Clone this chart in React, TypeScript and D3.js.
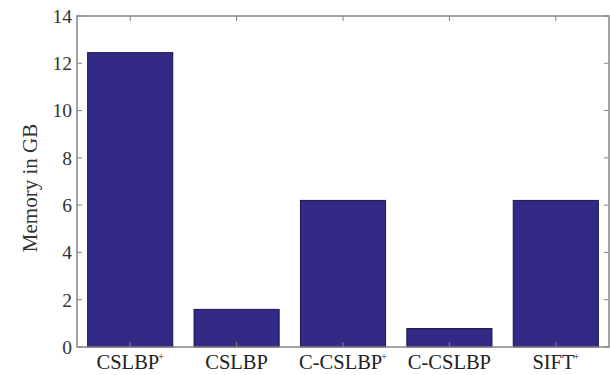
import { useEffect, useRef } from "react";
import * as d3 from "d3";

const categories = ["CSLBP", "CSLBP", "C-CSLBP", "C-CSLBP", "SIFT"];
const superscripts = ["+", "", "+", "", "+"];
const memory = [12.45, 1.59, 6.2, 0.78, 6.2];
const yTicks = [0, 2, 4, 6, 8, 10, 12, 14];

export default function App() {
  const ref = useRef<SVGSVGElement>(null);

  useEffect(() => {
    if (!ref.current) return;
    const svg = d3.select(ref.current);
    svg.selectAll("*").remove();

    const left = 77, right = 609, top = 16, bottom = 347;
    const font = "'Liberation Serif', 'Times New Roman', serif";

    const x = d3.scaleLinear().domain([0.5, 5.5]).range([left, right]);
    const y = d3.scaleLinear().domain([0, 14]).range([bottom, top]);
    const barW = x(1.8) - x(1);

    svg
      .append("rect")
      .attr("width", 610)
      .attr("height", 375)
      .attr("fill", "white");

    svg
      .append("g")
      .selectAll("rect")
      .data(memory)
      .join("rect")
      .attr("x", (_, i) => x(i + 1) - barW / 2)
      .attr("y", (d) => y(d))
      .attr("width", barW)
      .attr("height", (d) => y(0) - y(d))
      .attr("fill", "#332a85")
      .attr("stroke", "#1a1650")
      .attr("stroke-width", 1);

    const axisColor = "#858585";

    // box
    svg
      .append("rect")
      .attr("x", left)
      .attr("y", top)
      .attr("width", right - left)
      .attr("height", bottom - top)
      .attr("fill", "none")
      .attr("stroke", axisColor)
      .attr("stroke-width", 1.5);

    // y ticks (inside, both sides)
    const yt = svg.append("g");
    yTicks.forEach((t) => {
      yt.append("line")
        .attr("x1", left).attr("x2", left + 5)
        .attr("y1", y(t)).attr("y2", y(t))
        .attr("stroke", axisColor);
      yt.append("line")
        .attr("x1", right).attr("x2", right - 5)
        .attr("y1", y(t)).attr("y2", y(t))
        .attr("stroke", axisColor);
      yt.append("text")
        .attr("x", left - 5)
        .attr("y", y(t))
        .attr("dy", "0.35em")
        .attr("text-anchor", "end")
        .attr("font-family", font)
        .attr("font-size", 19.5)
        .attr("fill", "#333")
        .text(t);
    });

    // x ticks
    const xt = svg.append("g");
    categories.forEach((c, i) => {
      const cx = x(i + 1);
      xt.append("line")
        .attr("x1", cx).attr("x2", cx)
        .attr("y1", bottom).attr("y2", bottom - 5)
        .attr("stroke", axisColor);
      xt.append("line")
        .attr("x1", cx).attr("x2", cx)
        .attr("y1", top).attr("y2", top + 5)
        .attr("stroke", axisColor);
      const label = xt
        .append("text")
        .attr("x", cx)
        .attr("y", 369)
        .attr("text-anchor", "middle")
        .attr("font-family", font)
        .attr("font-size", 20.5)
        .attr("fill", "#222");
      label.append("tspan").text(c);
      if (superscripts[i]) {
        label
          .append("tspan")
          .attr("dx", -1)
          .attr("dy", -9)
          .attr("font-size", 10)
          .text(superscripts[i]);
      }
    });

    svg
      .append("text")
      .attr("transform", `translate(37, 188) rotate(-90)`)
      .attr("text-anchor", "middle")
      .attr("font-family", font)
      .attr("font-size", 21)
      .attr("fill", "#333")
      .text("Memory in GB");
  }, []);

  return (
    <svg
      ref={ref}
      width={610}
      height={375}
      style={{ position: "absolute", left: 0, top: 0 }}
    />
  );
}
